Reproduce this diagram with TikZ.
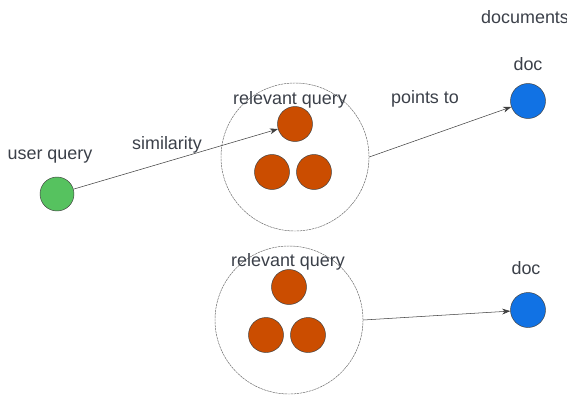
\documentclass[tikz,border=0pt]{standalone}
\usepackage{fontspec}
\setmainfont{Liberation Sans}
\usetikzlibrary{arrows.meta,positioning,calc}
\definecolor{qgreen}{HTML}{56C25F}
\definecolor{qorange}{HTML}{CB4D00}
\definecolor{qblue}{HTML}{1172E4}
\definecolor{qtext}{HTML}{3B4049}

\begin{document}
\begin{tikzpicture}[x=0.03cm,y=-0.03cm,>={Stealth[length=7pt,width=5pt]},
    dot/.style={circle,draw=black!75,line width=0.4pt,minimum size=1.05cm,inner sep=0pt},
    group/.style={circle,draw=black!60,line width=0.4pt,dash pattern=on 2pt off 0.6pt,minimum size=4.44cm,inner sep=0pt},
    lbl/.style={text=qtext,font=\fontsize{15.3}{18}\selectfont,inner sep=0pt},
    link/.style={->,draw=black!75,line width=0.45pt}]
  \useasboundingbox (0,0) rectangle (567,411);

  % user query
  \node[dot,fill=qgreen,minimum size=1.02cm] (uq) at (57,194) {};
  \node[lbl] (lbluq) at (50,157) {user query};

  % first group of relevant queries
  \node[group] (grpA) at (295,157) {};
  \node[lbl] (lblgrpA) at (290,100) {relevant query};
  \foreach \name/\x/\y in {rqA1/295/124, rqA2/272/172, rqA3/314/172}
      \node[dot,fill=qorange] (\name) at (\x,\y) {};

  % second group of relevant queries
  \node[group] (grpB) at (289,320) {};
  \node[lbl] (lblgrpB) at (288,262) {relevant query};
  \foreach \name/\x/\y in {rqB1/289/287, rqB2/266/335, rqB3/308/335}
      \node[dot,fill=qorange] (\name) at (\x,\y) {};

  % documents
  \node[lbl,anchor=west] (lbldocs) at (481,17) {documents};
  \node[dot,fill=qblue] (docA) at (528,101) {};
  \node[lbl] (lbldocA) at (528,64) {doc};
  \node[dot,fill=qblue] (docB) at (528,310) {};
  \node[lbl] (lbldocB) at (526,268) {doc};

  % connectors
  \draw[link] (uq) -- (rqA1);
  \node[lbl] (lblsim) at (167,145) {similarity};
  \draw[link] (grpA.east) -- (docA);
  \node[lbl] (lblpts) at (425,99) {points to};
  \draw[link] (grpB.east) -- (docB);
\end{tikzpicture}
\end{document}
